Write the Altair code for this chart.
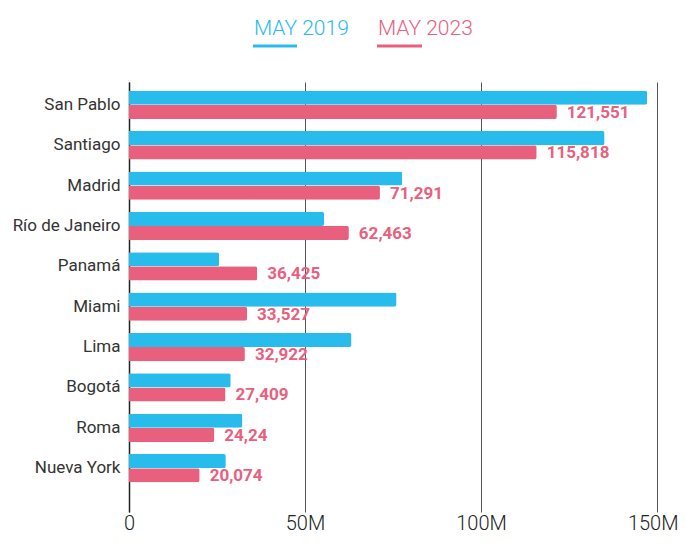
import altair as alt
import pandas as pd

cities = ["San Pablo", "Santiago", "Madrid", "Río de Janeiro", "Panamá",
          "Miami", "Lima", "Bogotá", "Roma", "Nueva York"]
series = ["MAY 2019", "MAY 2023"]
may2019 = [147200, 135100, 77600, 55400, 25600, 76000, 63200, 28900, 32200, 27500]
may2023 = [121551, 115818, 71291, 62463, 36425, 33527, 32922, 27409, 24240, 20074]
labels2023 = ["121,551", "115,818", "71,291", "62,463", "36,425", "33,527",
              "32,922", "27,409", "24,24", "20,074"]
x_ticks = [0, 50000, 100000, 150000]
colors = ["#28BCEC", "#E9607E"]

rows = []
for c, a, b, lab in zip(cities, may2019, may2023, labels2023):
    rows.append({"city": c, "series": series[0], "value": a, "label": ""})
    rows.append({"city": c, "series": series[1], "value": b, "label": lab})
df = pd.DataFrame(rows)

FONT = "Roboto"

y_scale = alt.Scale(paddingInner=0.299, paddingOuter=0.476, align=0.227)
y_enc = alt.Y("city:N", sort=cities, scale=y_scale,
              axis=alt.Axis(title=None, domain=True, domainColor="#222", domainWidth=1.5,
                            ticks=False, labelPadding=9, labelFont=FONT, labelFontWeight=400,
                            labelFontSize=17, labelColor="#333", grid=False))
yoff = alt.YOffset("series:N", sort=series, scale=alt.Scale(domain=series))
x_enc = alt.X("value:Q", scale=alt.Scale(domain=[0, 150000], nice=False),
              axis=alt.Axis(title=None, values=x_ticks, grid=True, gridColor="#555",
                            gridWidth=1, domain=False, ticks=False,
                            labelBaseline="alphabetic", labelPadding=17,
                            labelFlush=False, labelOverlap=False,
                            labelAlign={"condition": {"test": "datum.value >= 150000",
                                                      "value": "right"},
                                        "value": "center"},
                            labelOffset={"condition": {"test": "datum.value >= 150000",
                                                       "value": 21},
                                         "value": 0},
                            labelFont=FONT, labelFontSize=20, labelFontWeight=300,
                            labelColor="#222",
                            labelExpr="datum.value == 0 ? '0' : (datum.value / 1000) + 'M'"))

base = alt.Chart(df)
bars = base.mark_bar(cornerRadiusEnd=2).encode(
    y=y_enc, yOffset=yoff, x=x_enc,
    color=alt.Color("series:N", scale=alt.Scale(domain=series, range=colors), legend=None),
)
texts = base.transform_filter(alt.datum.label != "").mark_text(
    align="left", baseline="middle", dx=10, dy=1, font=FONT, fontSize=17,
    fontWeight="bold", color=colors[1]
).encode(y=alt.Y("city:N", sort=cities), yOffset=yoff,
         x=alt.X("value:Q"), text="label:N")

leg_df = pd.DataFrame({"series": series})
leg1 = alt.Chart(leg_df).transform_filter(alt.datum.series == series[0]).mark_text(
    align="left", baseline="alphabetic", font=FONT, fontSize=21, fontWeight=300,
    color=colors[0]).encode(text="series:N", x=alt.value(125), y=alt.value(-47))
leg2 = alt.Chart(leg_df).transform_filter(alt.datum.series == series[1]).mark_text(
    align="left", baseline="alphabetic", font=FONT, fontSize=21, fontWeight=300,
    color=colors[1]).encode(text="series:N", x=alt.value(249), y=alt.value(-47))
u1 = alt.Chart(leg_df).transform_filter(alt.datum.series == series[0]).mark_rect(
    color=colors[0]).encode(x=alt.value(124), x2=alt.value(168),
                            y=alt.value(-37.5), y2=alt.value(-34.5))
u2 = alt.Chart(leg_df).transform_filter(alt.datum.series == series[1]).mark_rect(
    color=colors[1]).encode(x=alt.value(248), x2=alt.value(293),
                            y=alt.value(-37.5), y2=alt.value(-34.5))

chart = alt.layer(bars, texts, leg1, leg2, u1, u2).properties(
    width=528, height=430,
    background="white",
    autosize=alt.AutoSizeParams(type="none"),
    padding={"left": 121, "top": 74, "right": 21, "bottom": 23},
).configure_view(strokeWidth=0)

chart.save("out.html", embed_options={"renderer": "svg", "actions": False})
